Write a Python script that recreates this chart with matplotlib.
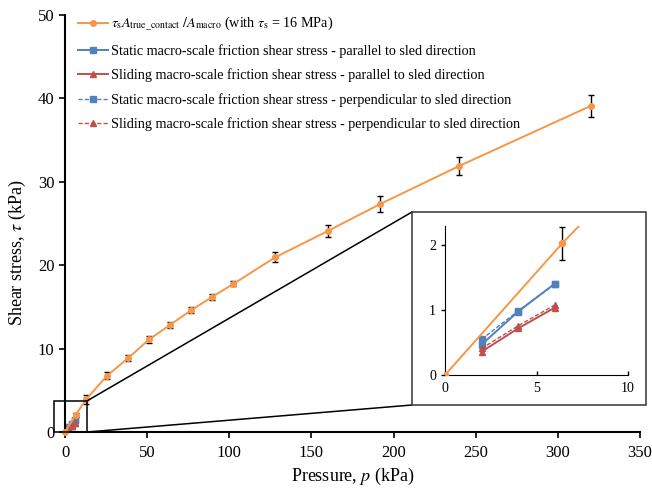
import matplotlib

matplotlib.use("Agg")
import matplotlib.pyplot as plt
from matplotlib.patches import Rectangle, ConnectionPatch

plt.rcParams["font.family"] = ["Liberation Serif", "DejaVu Serif"]
plt.rcParams["mathtext.fontset"] = "stix"

# tau_s * A_true_contact / A_macro (orange)
pressure = [0, 6.4, 12.8, 25.6, 38.4, 51.2, 64.0, 76.8, 89.6, 102.4, 128, 160, 192, 240, 320]
tau_true = [0, 2.03, 3.9, 6.75, 8.85, 11.1, 12.85, 14.6, 16.2, 17.75, 20.95, 24.1, 27.35, 31.9, 39.1]
tau_err = [0, 0.25, 0.5, 0.45, 0.35, 0.4, 0.35, 0.35, 0.35, 0.3, 0.6, 0.75, 1.0, 1.1, 1.35]

# macro-scale friction measurements
p_sled = [2, 4, 6]
static_par = [0.47, 0.98, 1.41]
sliding_par = [0.36, 0.72, 1.04]
static_perp = [0.55, 0.99, 1.40]
sliding_perp = [0.41, 0.76, 1.08]

labels = [
    r"$\tau_\mathrm{s}A_\mathrm{true\_contact}\ /A_\mathrm{macro}$ (with $\tau_\mathrm{s}$ = 16 MPa)",
    "Static macro-scale friction shear stress - parallel to sled direction",
    "Sliding macro-scale friction shear stress - parallel to sled direction",
    "Static macro-scale friction shear stress - perpendicular to sled direction",
    "Sliding macro-scale friction shear stress - perpendicular to sled direction",
]

ORANGE = "#F79646"
BLUE = "#4F81BD"
RED = "#C0504D"


def draw_series(axis, ms_scale=1.0, clip=True):
    handles = []
    h = axis.errorbar(pressure, tau_true, yerr=tau_err, color=ORANGE, marker="o",
                      markersize=4 * ms_scale, lw=1.4, ecolor="black", elinewidth=1,
                      capsize=2.5, capthick=1, zorder=3)
    for artist in h.get_children():
        artist.set_clip_on(clip)
    handles.append(h.lines[0])
    handles += axis.plot(p_sled, static_par, color=BLUE, marker="s", ms=4 * ms_scale, lw=1.4)
    handles += axis.plot(p_sled, sliding_par, color=RED, marker="^", ms=4 * ms_scale, lw=1.4)
    handles += axis.plot(p_sled, static_perp, color=BLUE, marker="s", ms=4 * ms_scale,
                         lw=1.0, ls=(0, (3, 1.5)))
    handles += axis.plot(p_sled, sliding_perp, color=RED, marker="^", ms=4 * ms_scale,
                         lw=1.0, ls=(0, (3, 1.5)))
    return handles


W, H = 652, 490
fig = plt.figure(figsize=(W / 100, H / 100), dpi=100)

ax = fig.add_axes([65 / W, 1 - 432 / H, (640 - 65) / W, (432 - 15) / H])
handles = draw_series(ax, clip=False)
ax.set_xlim(0, 350)
ax.set_ylim(0, 50)
ax.set_xticks(range(0, 351, 50))
ax.set_yticks(range(0, 51, 10))
for side in ("top", "right"):
    ax.spines[side].set_visible(False)
for side in ("left", "bottom"):
    ax.spines[side].set_linewidth(1.5)
ax.tick_params(labelsize=12, width=1.2, length=4, direction="out")
ax.tick_params(axis="x", pad=5)
ax.set_xlabel(r"Pressure, $p$ (kPa)", fontsize=13, labelpad=4)
ax.set_ylabel(r"Shear stress, $\tau$ (kPa)", fontsize=13)
ax.yaxis.set_label_coords(-0.064, 0.43)

ax.legend(handles, labels, loc="upper left", bbox_to_anchor=(0.0, 1.03), frameon=False,
          fontsize=10.2, handlelength=2.1, handletextpad=0.25, labelspacing=0.75)

# zoom rectangle on main axes
zx0, zx1, zy0, zy1 = -6.5, 13.6, 0, 3.75
ax.add_patch(Rectangle((zx0, zy0), zx1 - zx0, zy1 - zy0, fill=False, ec="black",
                       lw=1.1, clip_on=False, zorder=4))

# inset frame (figure level)
bx0, by0, bx1, by1 = 412 / W, 1 - 405 / H, 646 / W, 1 - 212 / H
fig.patches.append(Rectangle((bx0, by0), bx1 - bx0, by1 - by0, transform=fig.transFigure,
                             fill=True, fc="white", ec="#333333", lw=1.1, zorder=5))
for (dx, dy), (fx, fy) in [((zx1, zy1), (bx0, by1)), ((zx1, zy0), (bx0, by0))]:
    con = ConnectionPatch(xyA=(dx, dy), coordsA=ax.transData, xyB=(fx, fy),
                          coordsB=fig.transFigure, color="black", lw=1.1)
    fig.add_artist(con)

axin = fig.add_axes([445 / W, 1 - 375 / H, (628 - 445) / W, (375 - 226) / H], zorder=6)
axin.patch.set_alpha(0)
draw_series(axin, ms_scale=1.1)
axin.set_xlim(0, 10)
axin.set_ylim(0, 2.3)
axin.set_xticks([0, 5, 10])
axin.set_yticks([0, 1, 2])
for side in ("top", "right"):
    axin.spines[side].set_visible(False)
axin.tick_params(labelsize=10, width=1, length=3)
axin.tick_params(axis="x", direction="in", pad=5)

fig.savefig("out.png", dpi=100)
